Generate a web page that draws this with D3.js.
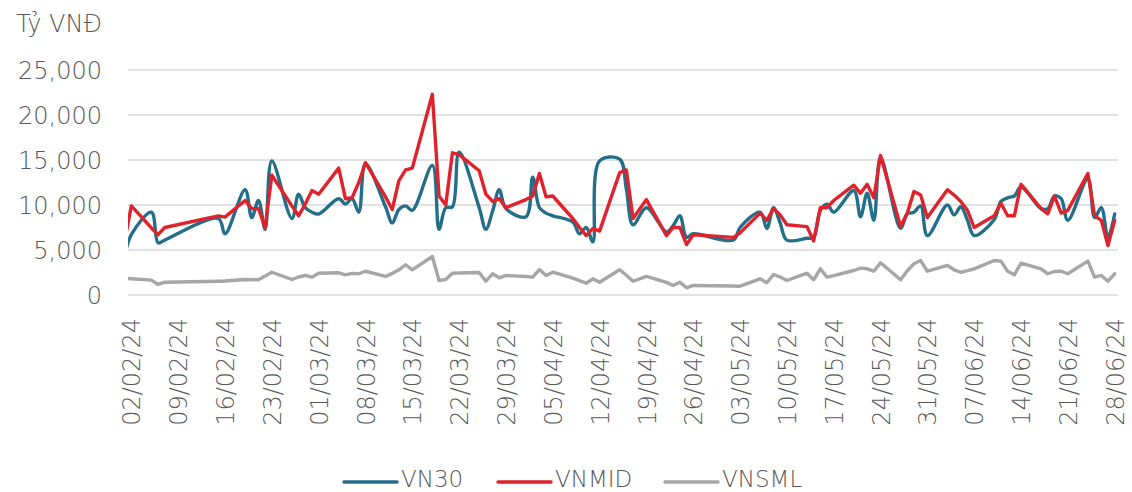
<!DOCTYPE html>
<html>
<head>
<meta charset="utf-8">
<script src="https://cdn.jsdelivr.net/npm/d3@7"></script>
<style>
    body { margin: 0; background: #fff; }
    text { font-family: "DejaVu Sans", sans-serif; font-weight: 200; fill: #595959; }
</style>
</head>
<body>
<script>
// trading days (dd/mm/yy), 01/02 lies just left of the plot edge and gets clipped
const days = [
    "01/02/24","02/02/24","05/02/24","06/02/24","07/02/24","15/02/24","16/02/24","19/02/24","20/02/24","21/02/24",
    "22/02/24","23/02/24","26/02/24","27/02/24","28/02/24","29/02/24",
    "01/03/24","04/03/24","05/03/24","06/03/24","07/03/24","08/03/24","11/03/24","12/03/24","13/03/24","14/03/24",
    "15/03/24","18/03/24","19/03/24","20/03/24","21/03/24","22/03/24","25/03/24","26/03/24","27/03/24","28/03/24","29/03/24",
    "01/04/24","02/04/24","03/04/24","04/04/24","05/04/24","08/04/24","09/04/24","10/04/24","11/04/24","12/04/24",
    "15/04/24","16/04/24","17/04/24","19/04/24","22/04/24","23/04/24","24/04/24","25/04/24","26/04/24",
    "02/05/24","03/05/24","06/05/24","07/05/24","08/05/24","09/05/24","10/05/24","13/05/24","14/05/24","15/05/24",
    "16/05/24","17/05/24","20/05/24","21/05/24","22/05/24","23/05/24","24/05/24","27/05/24","28/05/24","29/05/24",
    "30/05/24","31/05/24",
    "03/06/24","04/06/24","05/06/24","06/06/24","07/06/24","10/06/24","11/06/24","12/06/24","13/06/24","14/06/24",
    "17/06/24","18/06/24","19/06/24","20/06/24","21/06/24","24/06/24","25/06/24","26/06/24","27/06/24","28/06/24"
];

const vn30 = [
    4300, 6700, 9200, 5800, 6100, 8500, 6800, 11700, 8600, 10500,
    7300, 14900, 8500, 11200, 9700, 9200,
    9000, 10700, 10100, 10700, 9200, 14600, 9800, 8000, 9500, 9900,
    9400, 14400, 7300, 9700, 9800, 15900, 9700, 7300, 9300, 11700, 9600,
    8700, 13100, 9700, 9100, 8800, 8100, 6800, 7500, 5900, 14900,
    15100, 11800, 7800, 9700, 7000, 7700, 8800, 6400, 6800,
    6100, 7500, 9200, 7400, 9700, 8000, 6100, 6300, 6400, 9400,
    10100, 9200, 11600, 8700, 11300, 8300, 15300, 7400, 9000, 9200,
    9900, 6600,
    10000, 8900, 9800, 8300, 6600, 8400, 10400, 10800, 11000, 12000,
    9600, 9600, 11000, 10700, 8300, 12900, 8600, 9700, 6400, 9000
];

const vnmid = [
    6000, 9900, 7450, 6700, 7500, 8800, 8650, 10500, 9600, 9600,
    7500, 13300, 9900, 8800, 10100, 11600,
    11200, 14100, 10700, 10800, 12500, 14700, 10900, 9500, 12700, 13900,
    14100, 22300, 11000, 10000, 15800, 15600, 13800, 11200, 10400, 10700, 9700,
    10600, 11000, 13500, 10900, 11000, 8500, 7500, 6600, 7400, 7100,
    13600, 13900, 8500, 10600, 6600, 7500, 7500, 5600, 6700,
    6400, 6900, 9100, 8300, 9600, 8900, 7800, 7600, 6000, 9700,
    9700, 10500, 12200, 11300, 12300, 10800, 15500, 7600, 9100, 11500,
    11100, 8600,
    11700, 11100, 10400, 9400, 7500, 8800, 10200, 8800, 8800, 12300,
    9600, 9000, 11000, 9100, 9400, 13500, 8800, 8300, 5500, 8300
];

const vnsml = [
    1850, 1800, 1650, 1170, 1420, 1530, 1560, 1720, 1700, 1700,
    2100, 2530, 1720, 2000, 2170, 1980,
    2420, 2470, 2240, 2400, 2360, 2640, 2060, 2400, 2800, 3360,
    2800, 4280, 1610, 1720, 2420, 2450, 2500, 1530, 2360, 1910, 2170,
    2050, 1980, 2830, 2170, 2530, 1870, 1600, 1310, 1800, 1420,
    2800, 2200, 1530, 2060, 1400, 1060, 1420, 800, 1060,
    1000, 980, 1800, 1360, 2280, 2000, 1610, 2420, 1690, 2910,
    1980, 2150, 2720, 2980, 2910, 2640, 3580, 1690, 2700, 3470,
    3830, 2640,
    3280, 2800, 2530, 2700, 2910, 3830, 3760, 2640, 2240, 3530,
    2910, 2360, 2610, 2640, 2360, 3760, 1980, 2170, 1530, 2360
];

const yTicks = [0, 5000, 10000, 15000, 20000, 25000];

const tickLabels = [
    "02/02/24","09/02/24","16/02/24","23/02/24","01/03/24","08/03/24","15/03/24","22/03/24","29/03/24",
    "05/04/24","12/04/24","19/04/24","26/04/24","03/05/24","10/05/24","17/05/24","24/05/24","31/05/24",
    "07/06/24","14/06/24","21/06/24","28/06/24"
];

const seriesNames = ["VN30", "VNMID", "VNSML"];
const seriesColors = ["#236e88", "#e0222c", "#a6a6a6"];

const width = 1132, height = 492;
const margin = {left: 128, right: 14, top: 70, bottom: 197};

const parse = d3.utcParse("%d/%m/%y");
const dates = days.map(parse);

// plot runs from half a day before the first label to half a day after the last
const x = d3.scaleUtc()
    .domain([d3.utcHour.offset(parse("02/02/24"), -12), d3.utcHour.offset(parse("28/06/24"), 12)])
    .range([margin.left, width - margin.right]);

const y = d3.scaleLinear()
    .domain([0, 25000])
    .range([height - margin.bottom, margin.top]);

const svg = d3.select("body").append("svg")
    .attr("width", width)
    .attr("height", height);

svg.append("defs").append("clipPath")
    .attr("id", "plot")
    .append("rect")
    .attr("x", margin.left)
    .attr("y", 0)
    .attr("width", width - margin.left - margin.right)
    .attr("height", height);

// gridlines
svg.selectAll(".grid")
    .data(yTicks)
    .enter().append("line")
    .attr("class", "grid")
    .attr("x1", margin.left)
    .attr("x2", width - margin.right)
    .attr("y1", d => y(d))
    .attr("y2", d => y(d))
    .style("stroke", "#d9d9d9")
    .style("stroke-width", 1.5);

// y labels
svg.selectAll(".ylab")
    .data(yTicks)
    .enter().append("text")
    .attr("class", "ylab")
    .attr("x", 102)
    .attr("y", d => y(d))
    .attr("dy", "0.36em")
    .attr("text-anchor", "end")
    .style("font-size", "24px")
    .text(d3.format(","));

svg.append("text")
    .attr("x", 102)
    .attr("y", 32)
    .attr("text-anchor", "end")
    .style("font-size", "24px")
    .text("Tỷ VNĐ");

// x labels, rotated
svg.selectAll(".xlab")
    .data(tickLabels)
    .enter().append("text")
    .attr("class", "xlab")
    .attr("transform", d => "translate(" + (x(parse(d)) + 0.5) + ",318) rotate(-90)")
    .attr("dy", "0.36em")
    .attr("text-anchor", "end")
    .style("font-size", "24px")
    .text(d => d);

const lineSmooth = d3.line()
    .x((d, i) => x(dates[i]))
    .y(d => y(d))
    .curve(d3.curveCatmullRom.alpha(0.5));

const lineStraight = d3.line()
    .x((d, i) => x(dates[i]))
    .y(d => y(d));

const g = svg.append("g").attr("clip-path", "url(#plot)");

[vnsml, vn30, vnmid].forEach((vals, k) => {
    const idx = [2, 0, 1][k];
    g.append("path")
        .attr("d", idx === 0 ? lineSmooth(vals) : lineStraight(vals))
        .style("fill", "none")
        .style("stroke", seriesColors[idx])
        .style("stroke-width", 3.4)
        .style("stroke-linejoin", "round")
        .style("stroke-linecap", "round");
});

// legend
const legendX = [344, 498, 665];
const legend = svg.selectAll(".legend")
    .data(seriesNames)
    .enter().append("g")
    .attr("class", "legend")
    .attr("transform", (d, i) => "translate(" + legendX[i] + ",482)");

legend.append("line")
    .attr("x1", 0)
    .attr("x2", 53)
    .style("stroke", (d, i) => seriesColors[i])
    .style("stroke-width", 3.4)
    .style("stroke-linecap", "round");

legend.append("text")
    .attr("x", 57)
    .attr("y", 4.5)
    .style("font-size", "23px")
    .text(d => d);
</script>
</body>
</html>
